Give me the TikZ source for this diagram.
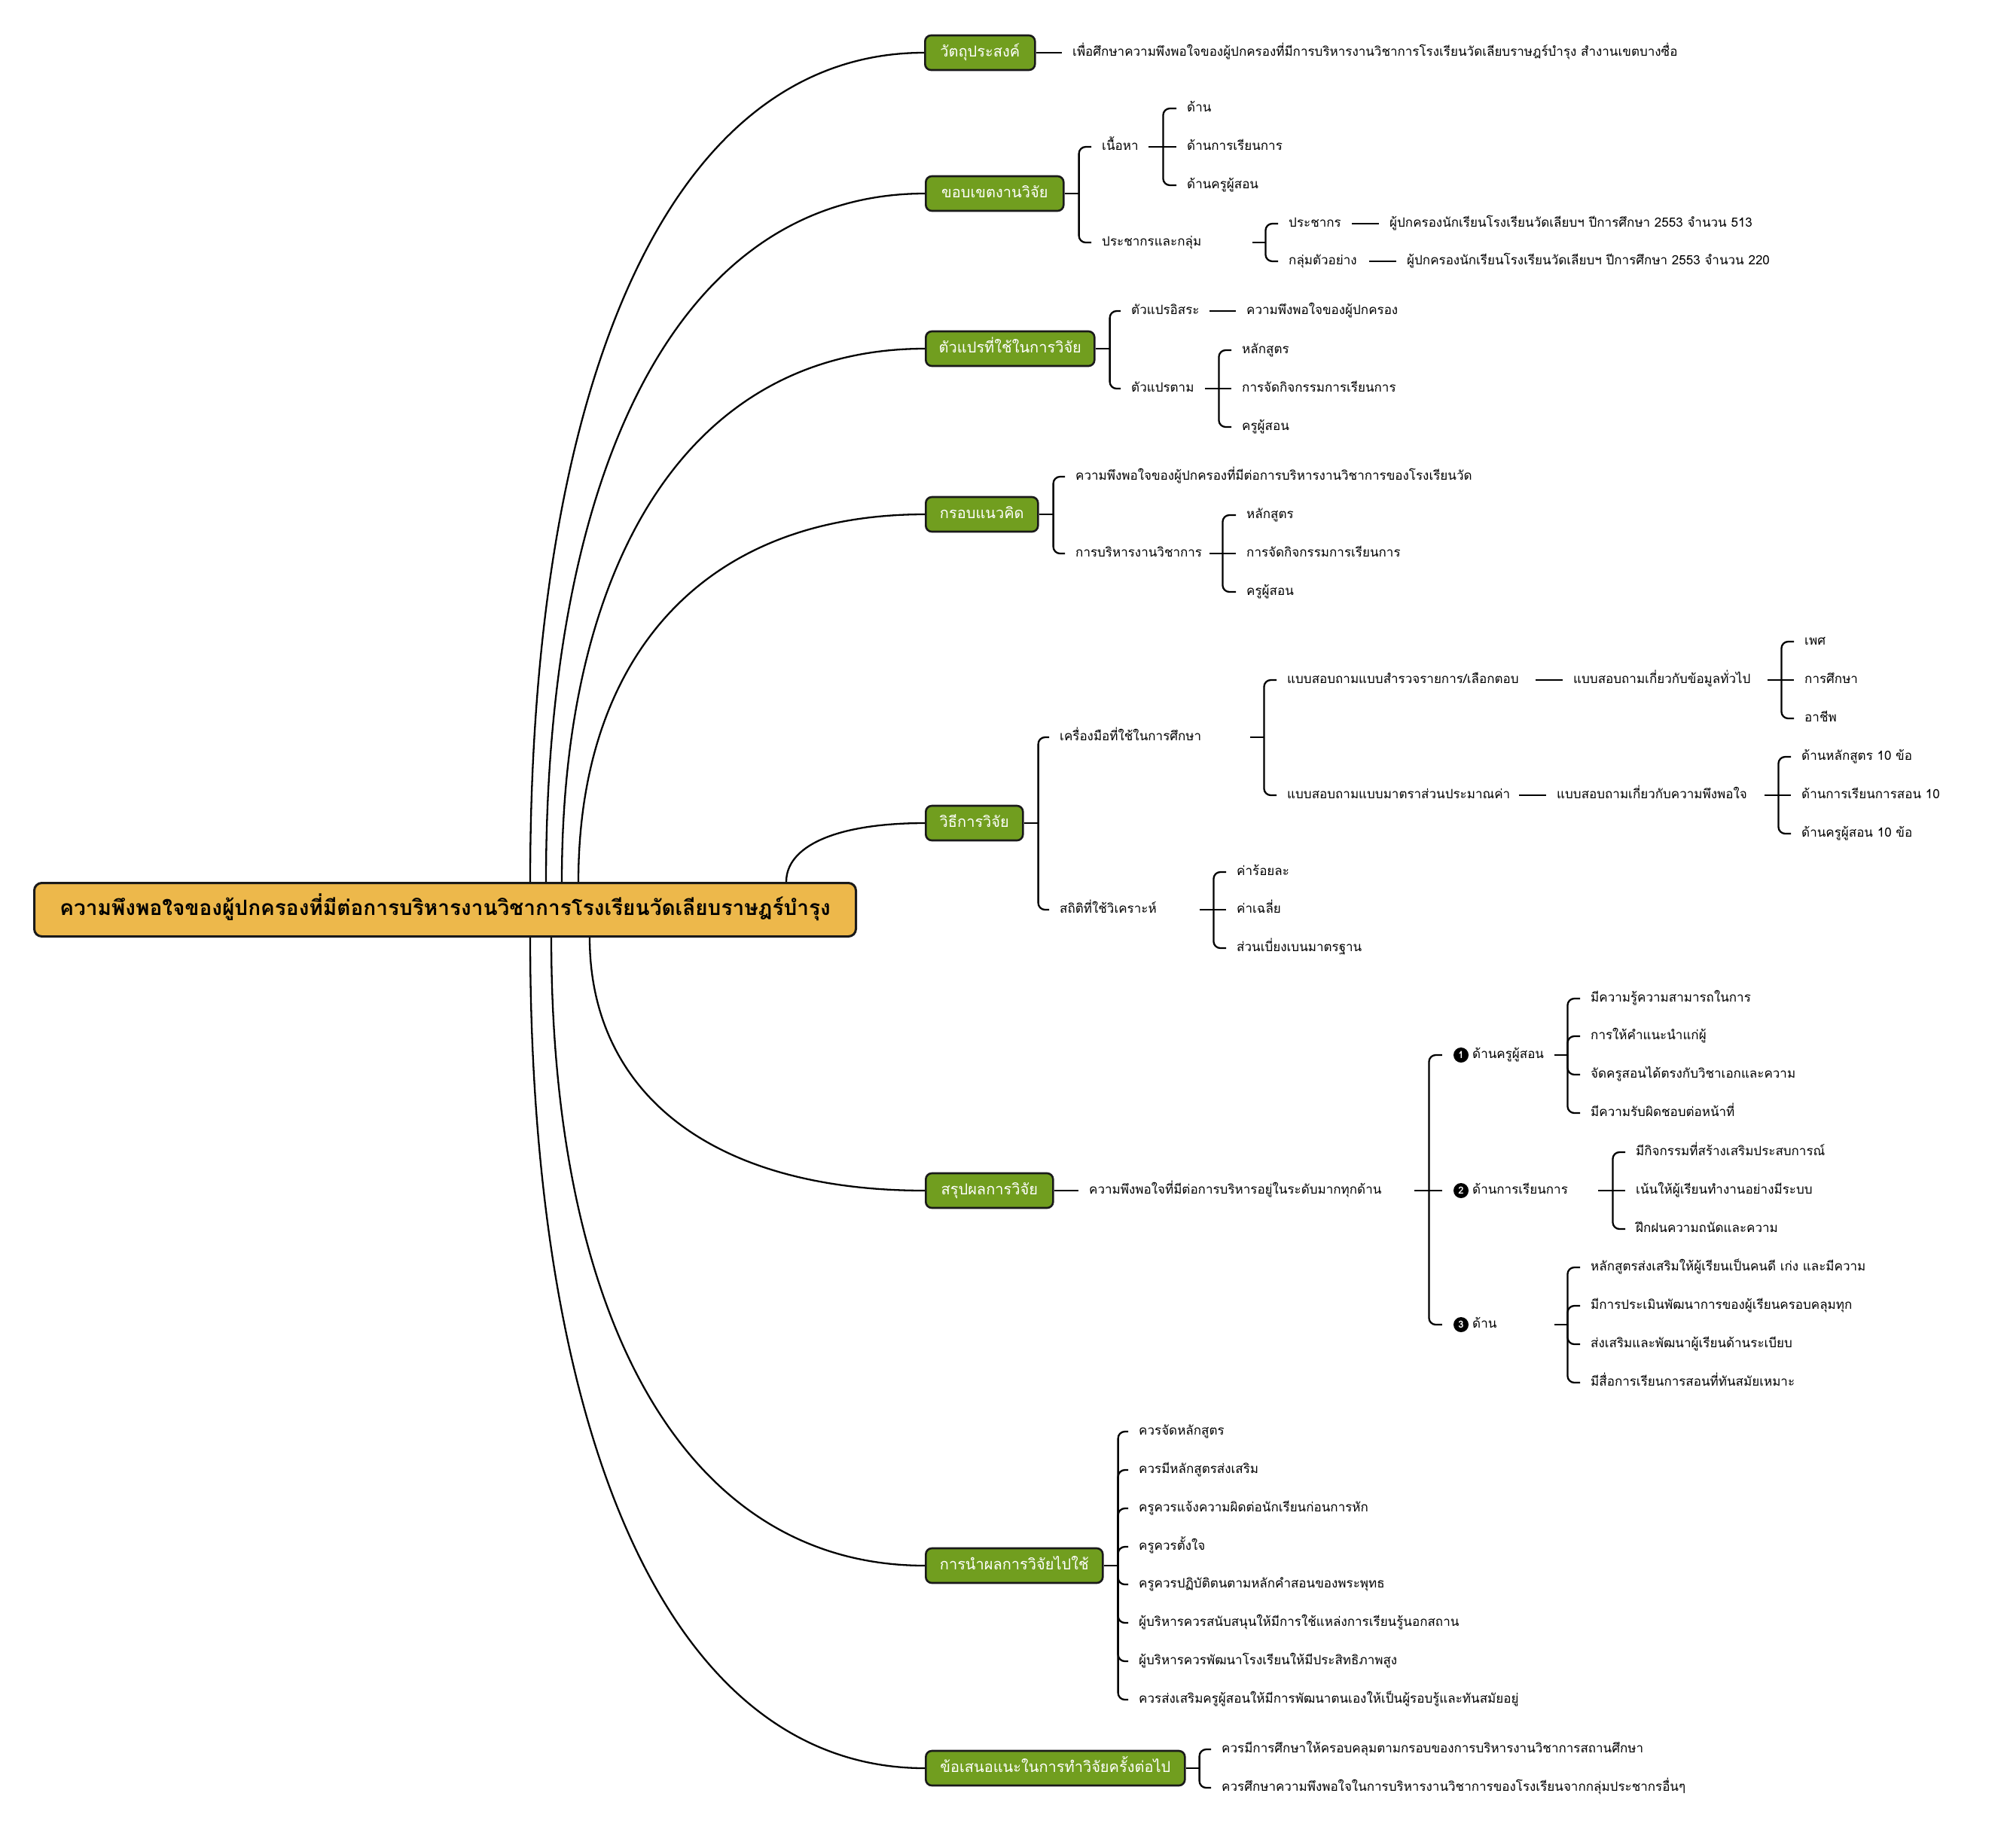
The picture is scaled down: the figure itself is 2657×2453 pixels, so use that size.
\documentclass[tikz,border=0pt]{standalone}
\usepackage{fontspec}
\setmainfont[Script=Thai]{Loma}
\usetikzlibrary{calc}
\definecolor{rootgold}{HTML}{EDB84B}
\definecolor{mgreen}{HTML}{719E1F}
\definecolor{edgecol}{HTML}{1A1A1A}
\newcommand\mmcurve[2]{\draw[conn] (#1) .. controls ($(#1)!0.6!(#1|-#2)$) and ($(#2)!0.65!(#1|-#2)$) .. (#2);}
\newcommand\mmfork[4]{%
  \coordinate (#1j) at ($(#1.east)+(#2,0)$);
  \draw[conn] (#1.east) -- (#1j);
  \foreach \ch in {#3}{\draw[brk] (#1j) |- (\ch.west);}
  \if\relax\detokenize{#4}\relax\else\draw[conn] (#1j) -- (#4.west);\fi
}
\begin{document}
\begin{tikzpicture}[x=1pt,y=-1pt,
  conn/.style={line width=2.3pt, draw=black},
  brk/.style={conn, rounded corners=9pt},
  rootbox/.style={draw=edgecol, line width=3pt, fill=rootgold, rounded corners=10pt, anchor=west,
     minimum height=71pt, minimum width=1091pt, inner sep=0pt,
     font=\bfseries\fontsize{28}{32}\selectfont, text height=21pt, text depth=7pt},
  mainbox/.style={draw=edgecol, line width=2.6pt, fill=mgreen, text=white, rounded corners=8pt,
     anchor=west, minimum height=46pt, inner xsep=17pt, inner ysep=0pt,
     font=\fontsize{20}{23}\selectfont, text height=15pt, text depth=4.8pt},
  leaf/.style={anchor=west, inner xsep=14pt, inner ysep=0pt, font=\fontsize{17}{20}\selectfont,
     text height=12.8pt, text depth=4.2pt},
  pnode/.style={leaf, text width=#1, align=left},
  bnode/.style={leaf, inner xsep=4pt, text width=#1, align=left},
  badge/.style={circle, fill=black, text=white, inner sep=0pt, minimum size=20pt,
     font=\bfseries\fontsize{13}{13}\selectfont}
]
\fill[white] (0,0) rectangle (2657,2453);
\useasboundingbox (0,0) rectangle (2657,2453);

% root
\node[rootbox] (root) at (44,1208) {ความพึงพอใจของผู้ปกครองที่มีต่อการบริหารงานวิชาการโรงเรียนวัดเลียบราษฎร์บำรุง};

% main branches
\node[mainbox, minimum width=146pt] (b1) at (1227,70) {วัตถุประสงค์};
\node[mainbox, minimum width=183pt] (b2) at (1228,257) {ขอบเขตงานวิจัย};
\node[mainbox, minimum width=224pt] (b3) at (1228,463) {ตัวแปรที่ใช้ในการวิจัย};
\node[mainbox, minimum width=149pt] (b4) at (1228,683) {กรอบแนวคิด};
\node[mainbox, minimum width=129pt] (b5) at (1228,1093) {วิธีการวิจัย};
\node[mainbox, minimum width=169pt] (b6) at (1228,1581) {สรุปผลการวิจัย};
\node[mainbox, minimum width=235pt] (b7) at (1228,2079) {การนำผลการวิจัยไปใช้};
\node[mainbox, minimum width=344pt] (b8) at (1228,2348) {ข้อเสนอแนะในการทำวิจัยครั้งต่อไป};

% curve start points on the root
\coordinate (s1) at ($(root.north west)+(660,0)$);
\coordinate (s2) at ($(root.north west)+(681,0)$);
\coordinate (s3) at ($(root.north west)+(702,0)$);
\coordinate (s4) at ($(root.north west)+(724,0)$);
\coordinate (s5) at ($(root.north west)+(1000,0)$);
\coordinate (s6) at ($(root.south west)+(739,0)$);
\coordinate (s7) at ($(root.south west)+(688,0)$);
\coordinate (s8) at ($(root.south west)+(660,0)$);
\mmcurve{s1}{b1.west}
\mmcurve{s2}{b2.west}
\mmcurve{s3}{b3.west}
\mmcurve{s4}{b4.west}
\mmcurve{s5}{b5.west}
\mmcurve{s6}{b6.west}
\mmcurve{s7}{b7.west}
\mmcurve{s8}{b8.west}

% ---- branch 1
\node[leaf] (c11) at (1410,70) {เพื่อศึกษาความพึงพอใจของผู้ปกครองที่มีการบริหารงานวิชาการโรงเรียนวัดเลียบราษฎร์บำรุง สำงานเขตบางซื่อ};
\draw[conn] (b1.east) -- (c11.west);

% ---- branch 2
\node[pnode=48pt] (c21) at (1449,195) {เนื้อหา};
\node[pnode=186pt] (c22) at (1449,322) {ประชากรและกลุ่ม};
\mmfork{b2}{19}{c21,c22}{}
\node[leaf] (c211) at (1562,144) {ด้าน};
\node[leaf] (c212) at (1562,195) {ด้านการเรียนการ};
\node[leaf] (c213) at (1562,246) {ด้านครูผู้สอน};
\mmfork{c21}{19}{c211,c213}{c212}
\node[pnode=70pt] (c221) at (1697,297) {ประชากร};
\node[pnode=93pt] (c222) at (1697,347) {กลุ่มตัวอย่าง};
\mmfork{c22}{17}{c221,c222}{}
\node[leaf] (c2211) at (1831,297) {ผู้ปกครองนักเรียนโรงเรียนวัดเลียบฯ ปีการศึกษา 2553 จำนวน 513};
\node[leaf] (c2221) at (1854,347) {ผู้ปกครองนักเรียนโรงเรียนวัดเลียบฯ ปีการศึกษา 2553 จำนวน 220};
\draw[conn] (c221.east) -- (c2211.west);
\draw[conn] (c222.east) -- (c2221.west);

% ---- branch 3
\node[pnode=90pt] (c31) at (1488,413) {ตัวแปรอิสระ};
\node[pnode=84pt] (c32) at (1488,516) {ตัวแปรตาม};
\mmfork{b3}{19}{c31,c32}{}
\node[leaf] (c311) at (1641,413) {ความพึงพอใจของผู้ปกครอง};
\draw[conn] (c31.east) -- (c311.west);
\node[leaf] (c321) at (1635,465) {หลักสูตร};
\node[leaf] (c322) at (1635,516) {การจัดกิจกรรมการเรียนการ};
\node[leaf] (c323) at (1635,567) {ครูผู้สอน};
\mmfork{c32}{18}{c321,c323}{c322}

% ---- branch 4
\node[leaf] (c41) at (1414,633) {ความพึงพอใจของผู้ปกครองที่มีต่อการบริหารงานวิชาการของโรงเรียนวัด};
\node[pnode=164pt] (c42) at (1414,735) {การบริหารงานวิชาการ};
\mmfork{b4}{19}{c41,c42}{}
\node[leaf] (c421) at (1641,684) {หลักสูตร};
\node[leaf] (c422) at (1641,735) {การจัดกิจกรรมการเรียนการ};
\node[leaf] (c423) at (1641,786) {ครูผู้สอน};
\mmfork{c42}{17}{c421,c423}{c422}

% ---- branch 5
\node[pnode=239pt] (c51) at (1393,979) {เครื่องมือที่ใช้ในการศึกษา};
\node[pnode=172pt] (c52) at (1393,1208) {สถิติที่ใช้วิเคราะห์};
\mmfork{b5}{19}{c51,c52}{}
\node[pnode=316pt] (c511) at (1695,903) {แบบสอบถามแบบสำรวจรายการ/เลือกตอบ};
\node[pnode=294pt] (c512) at (1695,1056) {แบบสอบถามแบบมาตราส่วนประมาณค่า};
\mmfork{c51}{18}{c511,c512}{}
\node[pnode=244pt] (c5111) at (2075,903) {แบบสอบถามเกี่ยวกับข้อมูลทั่วไป};
\draw[conn] (c511.east) -- (c5111.west);
\node[leaf] (c51111) at (2382,852) {เพศ};
\node[leaf] (c51112) at (2382,903) {การศึกษา};
\node[leaf] (c51113) at (2382,954) {อาชีพ};
\mmfork{c5111}{18}{c51111,c51113}{c51112}
\node[pnode=262pt] (c5121) at (2053,1056) {แบบสอบถามเกี่ยวกับความพึงพอใจ};
\draw[conn] (c512.east) -- (c5121.west);
\node[leaf] (c51211) at (2378,1005) {ด้านหลักสูตร 10 ข้อ};
\node[leaf] (c51212) at (2378,1056) {ด้านการเรียนการสอน 10};
\node[leaf] (c51213) at (2378,1107) {ด้านครูผู้สอน 10 ข้อ};
\mmfork{c5121}{18}{c51211,c51213}{c51212}
\node[leaf] (c521) at (1628,1158) {ค่าร้อยละ};
\node[leaf] (c522) at (1628,1208) {ค่าเฉลี่ย};
\node[leaf] (c523) at (1628,1259) {ส่วนเบี่ยงเบนมาตรฐาน};
\mmfork{c52}{18}{c521,c523}{c522}

% ---- branch 6
\node[pnode=418pt] (c61) at (1432,1581) {ความพึงพอใจที่มีต่อการบริหารอยู่ในระดับมากทุกด้าน};
\draw[conn] (b6.east) -- (c61.west);
\node[badge] (k1) at (1940,1401) {1};
\node[badge] (k2) at (1940,1581) {2};
\node[badge] (k3) at (1940,1759) {3};
\node[bnode=105pt] (c611) at (1951,1401) {ด้านครูผู้สอน};
\node[bnode=163pt] (c612) at (1951,1581) {ด้านการเรียนการ};
\node[bnode=105pt] (c613) at (1951,1759) {ด้าน};
\coordinate (c61j) at ($(c61.east)+(19,0)$);
\draw[conn] (c61.east) -- (c61j);
\draw[brk, shorten >=15pt] (c61j) |- (k1.west);
\draw[brk, shorten >=15pt] (c61j) |- (k3.west);
\draw[conn, shorten >=15pt] (c61j) -- (k2.west);
\node[leaf] (c6111) at (2098,1326) {มีความรู้ความสามารถในการ};
\node[leaf] (c6112) at (2098,1376) {การให้คำแนะนำแก่ผู้};
\node[leaf] (c6113) at (2098,1427) {จัดครูสอนได้ตรงกับวิชาเอกและความ};
\node[leaf] (c6114) at (2098,1478) {มีความรับผิดชอบต่อหน้าที่};
\mmfork{c611}{17}{c6111,c6112,c6113,c6114}{}
\node[leaf] (c6121) at (2158,1530) {มีกิจกรรมที่สร้างเสริมประสบการณ์};
\node[leaf] (c6122) at (2158,1581) {เน้นให้ผู้เรียนทำงานอย่างมีระบบ};
\node[leaf] (c6123) at (2158,1632) {ฝึกฝนความถนัดและความ};
\mmfork{c612}{19}{c6121,c6123}{c6122}
\node[leaf] (c6131) at (2098,1683) {หลักสูตรส่งเสริมให้ผู้เรียนเป็นคนดี เก่ง และมีความ};
\node[leaf] (c6132) at (2098,1734) {มีการประเมินพัฒนาการของผู้เรียนครอบคลุมทุก};
\node[leaf] (c6133) at (2098,1785) {ส่งเสริมและพัฒนาผู้เรียนด้านระเบียบ};
\node[leaf] (c6134) at (2098,1836) {มีสื่อการเรียนการสอนที่ทันสมัยเหมาะ};
\mmfork{c613}{17}{c6131,c6132,c6133,c6134}{}

% ---- branch 7
\node[leaf] (c71) at (1498,1901) {ควรจัดหลักสูตร};
\node[leaf] (c72) at (1498,1952) {ควรมีหลักสูตรส่งเสริม};
\node[leaf] (c73) at (1498,2003) {ครูควรแจ้งความผิดต่อนักเรียนก่อนการหัก};
\node[leaf] (c74) at (1498,2054) {ครูควรตั้งใจ};
\node[leaf] (c75) at (1498,2104) {ครูควรปฏิบัติตนตามหลักคำสอนของพระพุทธ};
\node[leaf] (c76) at (1498,2155) {ผู้บริหารควรสนับสนุนให้มีการใช้แหล่งการเรียนรู้นอกสถาน};
\node[leaf] (c77) at (1498,2206) {ผู้บริหารควรพัฒนาโรงเรียนให้มีประสิทธิภาพสูง};
\node[leaf] (c78) at (1498,2257) {ควรส่งเสริมครูผู้สอนให้มีการพัฒนาตนเองให้เป็นผู้รอบรู้และทันสมัยอยู่};
\mmfork{b7}{19}{c71,c72,c73,c74,c75,c76,c77,c78}{}

% ---- branch 8
\node[leaf] (c81) at (1608,2323) {ควรมีการศึกษาให้ครอบคลุมตามกรอบของการบริหารงานวิชาการสถานศึกษา};
\node[leaf] (c82) at (1608,2374) {ควรศึกษาความพึงพอใจในการบริหารงานวิชาการของโรงเรียนจากกลุ่มประชากรอื่นๆ};
\mmfork{b8}{18}{c81,c82}{}
\end{tikzpicture}
\end{document}
